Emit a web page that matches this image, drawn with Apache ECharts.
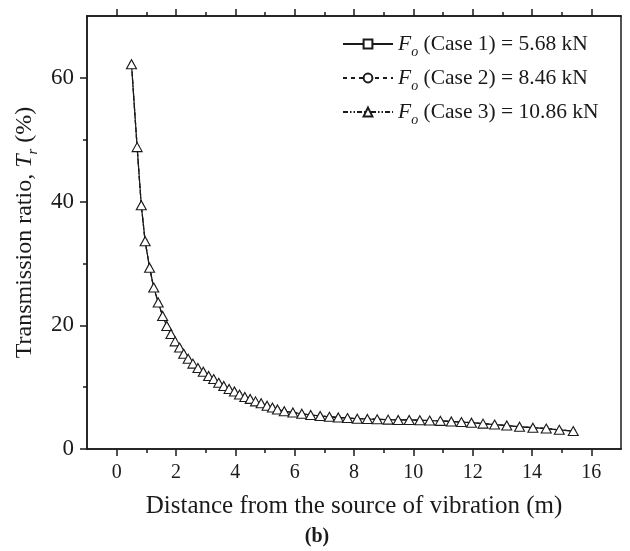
<!DOCTYPE html>
<html>
<head>
<meta charset="utf-8">
<script src="https://cdn.jsdelivr.net/npm/echarts@6/dist/echarts.min.js"></script>
<style>html,body{margin:0;padding:0;background:#fff;}#c{width:630px;height:551px;}</style>
</head>
<body>
<div id="c"></div>
<script>
// distance from source (m)
const distance = [0.50, 0.69, 0.83, 0.96, 1.11, 1.25, 1.40, 1.55, 1.69, 1.83, 1.97, 2.12, 2.26, 2.41, 2.57, 2.74, 2.92, 3.10, 3.27, 3.44, 3.61, 3.79, 3.97, 4.14, 4.32, 4.50, 4.68, 4.87, 5.07, 5.25, 5.42, 5.65, 5.94, 6.24, 6.54, 6.86, 7.17, 7.47, 7.78, 8.11, 8.45, 8.78, 9.15, 9.49, 9.86, 10.22, 10.55, 10.91, 11.28, 11.62, 11.96, 12.35, 12.74, 13.15, 13.58, 14.03, 14.48, 14.92, 15.39];
// transmission ratio (%) - the three cases coincide in the figure
const trCase1 = [62.2, 48.8, 39.4, 33.6, 29.3, 26.1, 23.7, 21.5, 19.9, 18.6, 17.4, 16.4, 15.4, 14.6, 13.8, 13.1, 12.5, 11.8, 11.3, 10.7, 10.2, 9.7, 9.3, 8.8, 8.4, 8.1, 7.7, 7.4, 7.0, 6.7, 6.4, 6.1, 5.9, 5.7, 5.5, 5.35, 5.2, 5.1, 5.0, 4.9, 4.85, 4.8, 4.75, 4.7, 4.7, 4.65, 4.6, 4.55, 4.45, 4.35, 4.25, 4.1, 3.95, 3.8, 3.6, 3.45, 3.3, 3.1, 2.9];
const trCase2 = [62.2, 48.8, 39.4, 33.6, 29.3, 26.1, 23.7, 21.5, 19.9, 18.6, 17.4, 16.4, 15.4, 14.6, 13.8, 13.1, 12.5, 11.8, 11.3, 10.7, 10.2, 9.7, 9.3, 8.8, 8.4, 8.1, 7.7, 7.4, 7.0, 6.7, 6.4, 6.1, 5.9, 5.7, 5.5, 5.35, 5.2, 5.1, 5.0, 4.9, 4.85, 4.8, 4.75, 4.7, 4.7, 4.65, 4.6, 4.55, 4.45, 4.35, 4.25, 4.1, 3.95, 3.8, 3.6, 3.45, 3.3, 3.1, 2.9];
const trCase3 = [62.2, 48.8, 39.4, 33.6, 29.3, 26.1, 23.7, 21.5, 19.9, 18.6, 17.4, 16.4, 15.4, 14.6, 13.8, 13.1, 12.5, 11.8, 11.3, 10.7, 10.2, 9.7, 9.3, 8.8, 8.4, 8.1, 7.7, 7.4, 7.0, 6.7, 6.4, 6.1, 5.9, 5.7, 5.5, 5.35, 5.2, 5.1, 5.0, 4.9, 4.85, 4.8, 4.75, 4.7, 4.7, 4.65, 4.6, 4.55, 4.45, 4.35, 4.25, 4.1, 3.95, 3.8, 3.6, 3.45, 3.3, 3.1, 2.9];
const caseNames = ['Case 1', 'Case 2', 'Case 3'];
const caseForces = ['5.68', '8.46', '10.86'];
const xMajorTicks = [0, 2, 4, 6, 8, 10, 12, 14, 16];
const xMinorTicks = [1, 3, 5, 7, 9, 11, 13, 15];
const yMajorTicks = [0, 20, 40, 60];
const yMinorTicks = [10, 30, 50];

const FONT = '"Liberation Serif", "DejaVu Serif", serif';
const BLACK = '#1a1a1a';
const chart = echarts.init(document.getElementById('c'), null, {renderer: 'canvas'});

function xAxis(pos, ticks, len, showLabel, extra) {
  return Object.assign({
    type: 'value', position: pos, min: -1, max: 17,
    axisLine: {show: true, onZero: false, lineStyle: {color: BLACK, width: 1.5}},
    axisTick: {show: true, inside: false, length: len, customValues: ticks, lineStyle: {color: BLACK, width: 1.5}},
    axisLabel: {show: showLabel, customValues: ticks, margin: 14, fontFamily: FONT, fontSize: 20, color: BLACK},
    splitLine: {show: false}
  }, extra || {});
}
function yAxis(pos, ticks, len, showLabel, extra) {
  return Object.assign({
    type: 'value', position: pos, min: 0, max: 70,
    axisLine: {show: true, onZero: false, lineStyle: {color: BLACK, width: 1.5}},
    axisTick: {show: true, inside: false, length: len, customValues: ticks, lineStyle: {color: BLACK, width: 1.5}},
    axisLabel: {show: showLabel, customValues: ticks, margin: 13, fontFamily: FONT, fontSize: 23, color: BLACK},
    splitLine: {show: false}
  }, extra || {});
}

const symbols = ['rect', 'circle', 'triangle'];
const sizes = [3, 3, [10, 9]];
const dashes = ['solid', [4, 4], [5, 2, 1.5, 2, 1.5, 2]];
const allData = [trCase1, trCase2, trCase3];

const series = allData.map((arr, i) => ({
  name: caseNames[i],
  type: 'line',
  xAxisIndex: 0, yAxisIndex: 0,
  data: distance.map((d, k) => [d, arr[k]]),
  symbol: symbols[i],
  symbolSize: sizes[i],
  showAllSymbol: true,
  lineStyle: {color: BLACK, width: 1.2, type: dashes[i]},
  itemStyle: {color: '#fff', borderColor: BLACK, borderWidth: 1.1},
  emphasis: {disabled: true},
  z: 2 + i,
  animation: false
}));

chart.setOption({
  animation: false,
  backgroundColor: '#fff',
  grid: {left: 87, right: 9, top: 16, bottom: 102, containLabel: false},
  legend: {
    orient: 'vertical', left: 342, top: 33, padding: 0,
    itemWidth: 50, itemHeight: 11, itemGap: 8,
    data: caseNames,
    formatter: function (name) {
      const i = caseNames.indexOf(name);
      return '{f|F}{s|o}{t| (' + name + ') = ' + caseForces[i] + ' kN}';
    },
    textStyle: {
      fontFamily: FONT, fontSize: 21.5, color: BLACK,
      rich: {
        f: {fontFamily: FONT, fontSize: 21.5, fontStyle: 'italic', color: BLACK},
        s: {fontFamily: FONT, fontSize: 14, fontStyle: 'italic', color: BLACK, padding: [16, 0, 0, 0]},
        t: {fontFamily: FONT, fontSize: 21.5, color: BLACK}
      }
    }
  },
  xAxis: [
    xAxis('bottom', xMajorTicks, 7, true, {
      name: 'Distance from the source of vibration (m)', nameLocation: 'middle', nameGap: 45,
      nameTextStyle: {fontFamily: FONT, fontSize: 25, color: BLACK}
    }),
    xAxis('bottom', xMinorTicks, 4, false),
    xAxis('top', xMajorTicks, 7, false),
    xAxis('top', xMinorTicks, 4, false)
  ],
  yAxis: [
    yAxis('left', yMajorTicks, 7, true, {
      name: '{n|Transmission ratio, }{i|T}{s|r}{n| (%)}', nameLocation: 'middle', nameGap: 40,
      nameTextStyle: {
        fontFamily: FONT, fontSize: 24, color: BLACK,
        rich: {
          n: {fontFamily: FONT, fontSize: 24, color: BLACK},
          i: {fontFamily: FONT, fontSize: 24, fontStyle: 'italic', color: BLACK},
          s: {fontFamily: FONT, fontSize: 15, fontStyle: 'italic', color: BLACK, padding: [16, 0, 0, 0]}
        }
      }
    }),
    yAxis('left', yMinorTicks, 4, false),
    yAxis('right', [], 0, false, {axisTick: {show: false}})
  ],
  graphic: [{
    type: 'text', x: 317, y: 537,
    style: {text: '(b)', fontFamily: FONT, fontSize: 20, fontWeight: 'bold', fill: BLACK, textAlign: 'center', textVerticalAlign: 'middle'}
  }],
  series: series
});
</script>
</body>
</html>
